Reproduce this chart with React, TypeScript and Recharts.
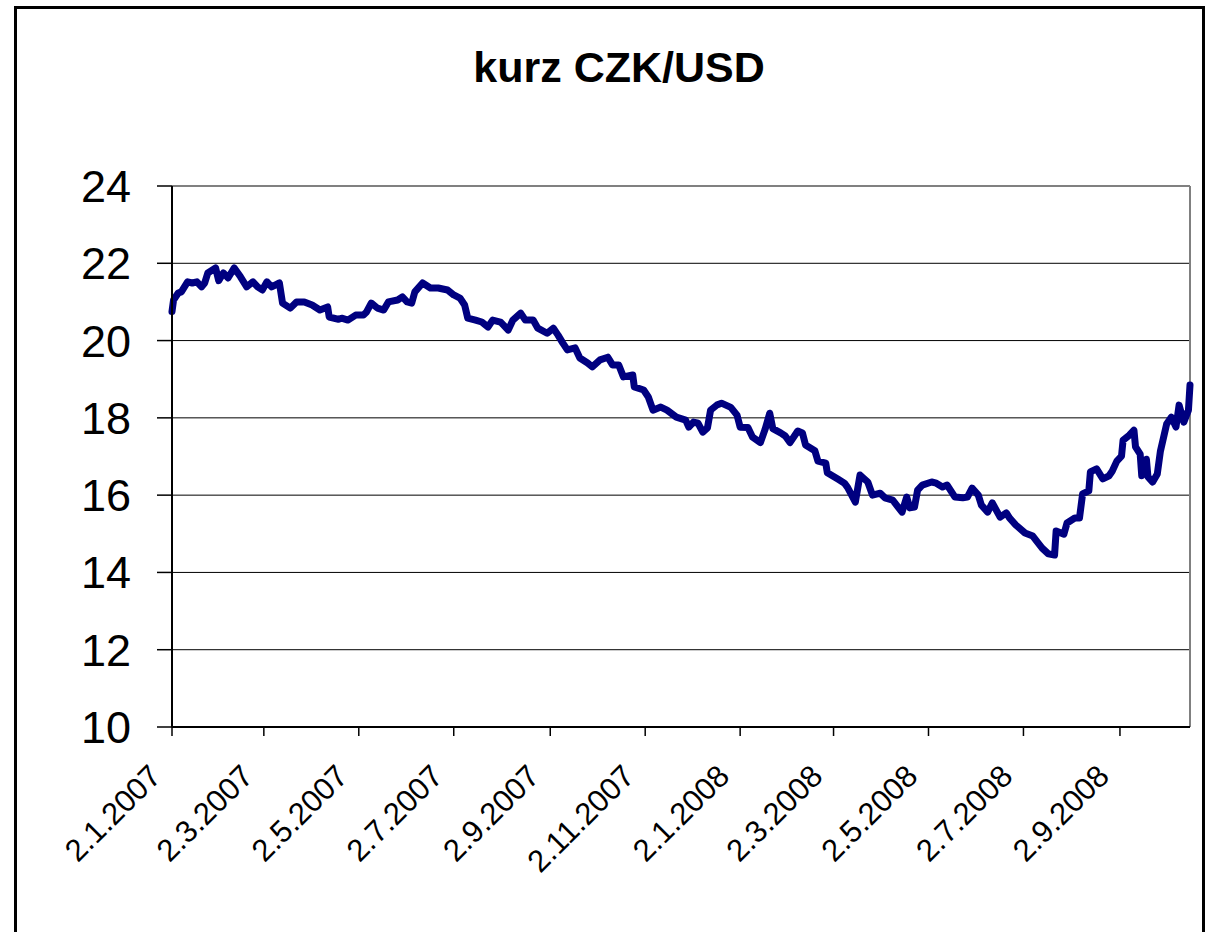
import React from 'react';
import { LineChart, Line, XAxis, YAxis, CartesianGrid, ReferenceLine } from 'recharts';

// days counted from 2.1.2007
const dayOffsets = [
  0, 1, 4, 6, 10, 13, 16, 19, 21, 23, 28, 30, 33, 36, 40, 44, 48, 52, 55, 58,
  61, 64, 69, 71, 76, 80, 85, 90, 95, 100, 101, 107, 109, 113, 118, 123, 125, 128, 132, 136,
  139, 145, 148, 151, 154, 156, 161, 166, 171, 177, 181, 185, 188, 190, 195, 199, 203, 206, 211, 213,
  216, 219, 224, 227, 232, 235, 241, 245, 248, 251, 254, 259, 262, 267, 270, 275, 280, 283, 287, 290,
  296, 297, 303, 306, 309, 314, 318, 324, 330, 332, 335, 338, 341, 344, 346, 350, 353, 359, 363, 365,
  370, 373, 378, 381, 384, 386, 391, 394, 397, 402, 405, 407, 413, 415, 420, 421, 428, 432, 434, 439,
  442, 447, 450, 455, 458, 463, 469, 472, 474, 477, 479, 482, 488, 491, 495, 498, 503, 508, 511, 514,
  518, 520, 524, 527, 532, 536, 538, 542, 548, 553, 559, 563, 567, 568, 573, 575, 580, 583, 585, 589,
  590, 594, 598, 602, 604, 607, 610, 611, 615, 618, 619, 622, 623, 626, 627, 630, 633, 635, 639, 642,
  645, 647, 650, 653, 654,
];

const rates = [
  20.75, 21.05, 21.23, 21.26, 21.52, 21.49, 21.52, 21.39, 21.49, 21.75, 21.88, 21.55, 21.75, 21.62, 21.88, 21.65, 21.39, 21.52, 21.39, 21.31,
  21.52, 21.39, 21.49, 20.97, 20.84, 21.0, 21.0, 20.92, 20.79, 20.87, 20.61, 20.55, 20.58, 20.53, 20.66, 20.66, 20.74, 20.97, 20.84, 20.79,
  21.0, 21.05, 21.13, 21.0, 20.97, 21.26, 21.49, 21.36, 21.36, 21.31, 21.18, 21.1, 20.92, 20.58, 20.53, 20.48, 20.35, 20.53, 20.48, 20.4,
  20.27, 20.53, 20.71, 20.53, 20.53, 20.32, 20.19, 20.32, 20.14, 19.94, 19.76, 19.81, 19.55, 19.42, 19.32, 19.5, 19.57, 19.37, 19.37, 19.06,
  19.11, 18.8, 18.72, 18.54, 18.2, 18.28, 18.2, 18.02, 17.94, 17.76, 17.89, 17.86, 17.63, 17.74, 18.2, 18.33, 18.38, 18.27, 18.07, 17.76,
  17.75, 17.5, 17.36, 17.7, 18.12, 17.72, 17.61, 17.53, 17.36, 17.66, 17.61, 17.3, 17.15, 16.88, 16.83, 16.58, 16.41, 16.31, 16.2, 15.82,
  16.52, 16.34, 16.0, 16.05, 15.93, 15.87, 15.56, 15.95, 15.67, 15.69, 16.13, 16.26, 16.34, 16.31, 16.21, 16.26, 15.95, 15.93, 15.95, 16.18,
  16.0, 15.74, 15.56, 15.8, 15.43, 15.54, 15.41, 15.23, 15.02, 14.94, 14.63, 14.48, 14.45, 15.07, 14.99, 15.28, 15.41, 15.41, 16.03, 16.11,
  16.6, 16.68, 16.42, 16.5, 16.62, 16.88, 17.01, 17.42, 17.55, 17.68, 17.25, 17.06, 16.5, 16.93, 16.47, 16.34, 16.55, 17.14, 17.84, 18.02,
  17.76, 18.33, 17.89, 18.2, 18.85,
];

const tickDays = [0, 59, 120, 181, 243, 304, 365, 425, 486, 547, 609];
const tickLabels = [
  '2.1.2007', '2.3.2007', '2.5.2007', '2.7.2007', '2.9.2007', '2.11.2007',
  '2.1.2008', '2.3.2008', '2.5.2008', '2.7.2008', '2.9.2008',
];
const yTicks = [10, 12, 14, 16, 18, 20, 22, 24];

const data = dayOffsets.map((d, i) => ({ day: d, rate: rates[i] }));

const FONT = '"Liberation Sans", Arial, sans-serif';

const DateTick = (props: any) => {
  const { x, y, payload } = props;
  const idx = tickDays.indexOf(payload.value);
  const ax = x - 9;
  const ay = y + 42;
  return (
    <text
      x={ax}
      y={ay}
      textAnchor="end"
      transform={`rotate(-45 ${ax} ${ay})`}
      fontSize={31}
      fontFamily={FONT}
      fill="#000"
    >
      {idx >= 0 ? tickLabels[idx] : ''}
    </text>
  );
};

const App: React.FC = () => {
  return (
    <div>
      <div
        style={{
          position: 'absolute',
          left: 14,
          top: 6,
          width: 1191,
          height: 926,
          borderTop: '3px solid #000',
          borderLeft: '3px solid #000',
          borderRight: '3px solid #000',
          boxSizing: 'border-box',
        }}
      />
      <div
        style={{
          position: 'absolute',
          left: 319,
          top: 46,
          width: 600,
          textAlign: 'center',
          fontFamily: FONT,
          fontWeight: 'bold',
          fontSize: 43,
          lineHeight: 1,
          color: '#000',
        }}
      >
        kurz CZK/USD
      </div>
      <div style={{ position: 'absolute', left: 0, top: 0 }}>
        <LineChart width={1206} height={932} data={data} margin={{ top: 186, right: 16, bottom: 55, left: 72 }}>
          <CartesianGrid horizontal vertical={false} stroke="#000" strokeWidth={1} />
          <XAxis
            dataKey="day"
            type="number"
            domain={[0, 654]}
            ticks={tickDays}
            interval={0}
            height={150}
            tickSize={9}
            tickMargin={0}
            tick={<DateTick />}
            axisLine={{ stroke: '#000', strokeWidth: 2 }}
            tickLine={{ stroke: '#000', strokeWidth: 1.5 }}
          />
          <YAxis
            type="number"
            domain={[10, 24]}
            ticks={yTicks}
            interval={0}
            width={100}
            tickSize={15}
            tickMargin={26}
            tick={{ fontSize: 45, fill: '#000', fontFamily: FONT }}
            axisLine={{ stroke: '#000', strokeWidth: 2 }}
            tickLine={{ stroke: '#000', strokeWidth: 1.5 }}
          />
          <ReferenceLine y={24} stroke="#808080" strokeWidth={2} />
          <ReferenceLine x={654} stroke="#808080" strokeWidth={2} />
          <Line
            type="linear"
            dataKey="rate"
            stroke="#000080"
            strokeWidth={7}
            strokeLinejoin="round"
            strokeLinecap="round"
            dot={false}
            isAnimationActive={false}
          />
        </LineChart>
      </div>
    </div>
  );
};

export default App;
